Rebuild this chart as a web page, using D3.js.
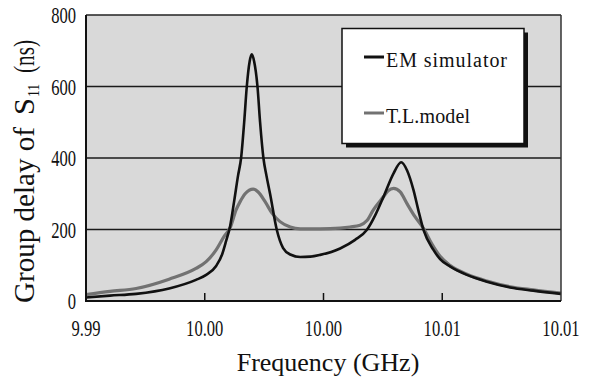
<!DOCTYPE html>
<html>
<head>
<meta charset="utf-8">
<script src="https://cdn.jsdelivr.net/npm/d3@7"></script>
<style>
  body { margin: 0; background: #fff; }
</style>
</head>
<body>
<svg id="chart" width="592" height="377" font-family="'Liberation Serif', 'DejaVu Serif', 'Times New Roman', serif"></svg>
<script>
// frequency (GHz), group delay (ns)
const emSimulator = [
    [9.99400, 10], [9.99501, 15], [9.99611, 20], [9.99750, 35], [9.99863, 59],
    [9.99906, 73], [9.99948, 98], [9.99973, 130], [9.99990, 168], [10.00007, 210],
    [10.00024, 280], [10.00040, 350], [10.00053, 400], [10.00066, 500], [10.00077, 600],
    [10.00089, 670], [10.00098, 690], [10.00108, 670], [10.00122, 600], [10.00133, 500],
    [10.00147, 400], [10.00160, 350], [10.00175, 300], [10.00203, 200], [10.00230, 148],
    [10.00260, 130], [10.00302, 123], [10.00344, 124], [10.00386, 129], [10.00470, 147],
    [10.00533, 171], [10.00583, 199], [10.00618, 240], [10.00653, 292], [10.00695, 357],
    [10.00727, 388], [10.00752, 365], [10.00779, 310], [10.00799, 255], [10.00821, 199],
    [10.00863, 143], [10.00891, 117], [10.00934, 96], [10.01004, 73], [10.01088, 54],
    [10.01186, 38], [10.01283, 29], [10.01400, 20]
];
const tlModel = [
    [9.99400, 18], [9.99501, 27], [9.99611, 35], [9.99750, 61], [9.99863, 91],
    [9.99906, 110], [9.99948, 143], [9.99981, 180], [10.00007, 205], [10.00032, 255],
    [10.00049, 278], [10.00070, 300], [10.00104, 313], [10.00125, 305], [10.00154, 278],
    [10.00184, 245], [10.00217, 222], [10.00260, 207], [10.00302, 202], [10.00386, 202],
    [10.00470, 204], [10.00512, 207], [10.00554, 212], [10.00583, 225], [10.00610, 255],
    [10.00653, 292], [10.00672, 308], [10.00695, 315], [10.00723, 305], [10.00751, 273],
    [10.00786, 235], [10.00821, 203], [10.00856, 160], [10.00891, 125], [10.00934, 99],
    [10.01004, 75], [10.01088, 56], [10.01186, 40], [10.01283, 31], [10.01400, 22]
];
const xTickValues = [9.994, 9.999, 10.004, 10.009, 10.014];
const xTickLabels = ["9.99", "10.00", "10.00", "10.01", "10.01"];
const yTickValues = [0, 200, 400, 600, 800];
const gridValues = [200, 400, 600];
const legendNames = ["EM simulator", "T.L.model"];

const svg = d3.select("#chart");
const plotLeft = 86, plotRight = 561, plotTop = 15, plotBottom = 301;
const emColor = "#111", tlColor = "#727272";
const textColor = "#111";

const x = d3.scaleLinear().domain([9.994, 10.014]).range([plotLeft, plotRight]);
const y = d3.scaleLinear().domain([0, 800]).range([plotBottom, plotTop]);

// squeeze a text element along its baseline, the scanned labels are narrow
function condense(sel, factor) {
    sel.each(function() {
        const w = this.getComputedTextLength();
        d3.select(this).attr("textLength", w * factor).attr("lengthAdjust", "spacingAndGlyphs");
    });
}

svg.append("rect")
    .attr("x", plotLeft).attr("y", plotTop)
    .attr("width", plotRight - plotLeft).attr("height", plotBottom - plotTop)
    .attr("fill", "#d9d9d9");

svg.selectAll(".grid").data(gridValues).enter().append("line")
    .attr("x1", plotLeft).attr("x2", plotRight)
    .attr("y1", d => y(d)).attr("y2", d => y(d))
    .attr("stroke", "#1a1a1a").attr("stroke-width", 1.5);

const line = d3.line()
    .x(d => x(d[0]))
    .y(d => y(d[1]))
    .curve(d3.curveMonotoneX);

svg.append("path").datum(tlModel)
    .attr("d", line).attr("fill", "none")
    .attr("stroke", tlColor).attr("stroke-width", 3.2);
svg.append("path").datum(emSimulator)
    .attr("d", line).attr("fill", "none")
    .attr("stroke", emColor).attr("stroke-width", 2.6);

// frame
svg.append("line").attr("x1", plotLeft).attr("x2", plotRight).attr("y1", plotTop).attr("y2", plotTop)
    .attr("stroke", "#222").attr("stroke-width", 1.5);
svg.append("line").attr("x1", plotRight).attr("x2", plotRight).attr("y1", plotTop).attr("y2", plotBottom)
    .attr("stroke", "#333").attr("stroke-width", 1.5);
svg.append("line").attr("x1", plotLeft).attr("x2", plotLeft).attr("y1", plotTop).attr("y2", plotBottom + 1)
    .attr("stroke", "#111").attr("stroke-width", 2);
svg.append("line").attr("x1", plotLeft).attr("x2", plotRight).attr("y1", plotBottom).attr("y2", plotBottom)
    .attr("stroke", "#111").attr("stroke-width", 2);

// inner ticks on the bottom axis
svg.selectAll(".xtick").data(xTickValues.slice(1, -1)).enter().append("line")
    .attr("x1", d => x(d)).attr("x2", d => x(d))
    .attr("y1", plotBottom).attr("y2", plotBottom - 8)
    .attr("stroke", "#111").attr("stroke-width", 1.5);

// tick labels
svg.selectAll(".xlabel").data(xTickValues).enter().append("text")
    .attr("x", (d, i) => x(d)).attr("y", 336)
    .attr("text-anchor", "middle").attr("font-size", 23).attr("fill", textColor)
    .text((d, i) => xTickLabels[i])
    .call(condense, 0.72);

svg.selectAll(".ylabel").data(yTickValues).enter().append("text")
    .attr("x", 76).attr("y", d => y(d) + 8)
    .attr("text-anchor", "end").attr("font-size", 23).attr("fill", textColor)
    .text(d => d)
    .call(condense, 0.72);

// axis titles
svg.append("text")
    .attr("x", 328).attr("y", 371)
    .attr("text-anchor", "middle").attr("font-size", 26).attr("fill", textColor)
    .text("Frequency (GHz)");

const yTitle = svg.append("g").attr("transform", "translate(34,303) rotate(-90)")
    .attr("fill", textColor);
yTitle.append("text").attr("x", 0).attr("y", 0).attr("font-size", 29)
    .attr("textLength", 176).attr("lengthAdjust", "spacingAndGlyphs")
    .text("Group delay of");
yTitle.append("text").attr("x", 188).attr("y", 0).attr("font-size", 29)
    .attr("textLength", 17).attr("lengthAdjust", "spacingAndGlyphs")
    .text("S");
yTitle.append("text").attr("x", 206).attr("y", 5).attr("font-size", 17)
    .attr("textLength", 13).attr("lengthAdjust", "spacingAndGlyphs")
    .text("11");
yTitle.append("text").attr("x", 230).attr("y", 0).attr("font-size", 29)
    .attr("textLength", 33).attr("lengthAdjust", "spacingAndGlyphs")
    .text("(ns)");

// legend with drop shadow
const lx = 342, ly = 28.5, lw = 182, lh = 115;
svg.append("rect")
    .attr("x", lx + 4).attr("y", ly + 4).attr("width", lw).attr("height", lh)
    .attr("fill", "#111");
svg.append("rect")
    .attr("x", lx).attr("y", ly).attr("width", lw).attr("height", lh)
    .attr("fill", "#fff").attr("stroke", "#111").attr("stroke-width", 1.5);

const legendColors = [emColor, tlColor];
const legendY = [57, 113];
const legendText = [123, 86];
legendNames.forEach(function(name, i) {
    svg.append("line")
        .attr("x1", 364).attr("x2", 384)
        .attr("y1", legendY[i]).attr("y2", legendY[i])
        .attr("stroke", legendColors[i]).attr("stroke-width", 3);
    svg.append("text")
        .attr("x", 386).attr("y", legendY[i] + 10)
        .attr("font-size", 20).attr("fill", textColor)
        .attr("letter-spacing", 2)
        .attr("textLength", legendText[i]).attr("lengthAdjust", "spacing")
        .text(name);
});
</script>
</body>
</html>
